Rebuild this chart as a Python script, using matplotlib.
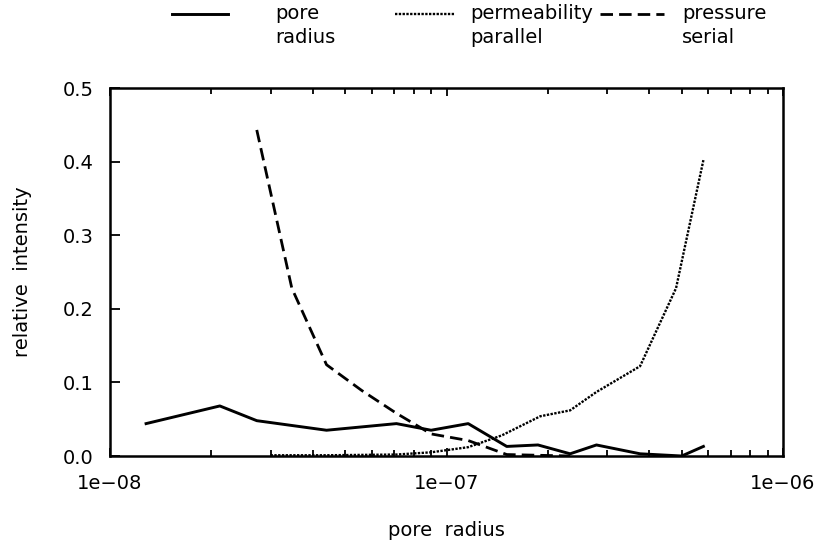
import matplotlib
matplotlib.use("Agg")
import matplotlib.pyplot as plt
from matplotlib.lines import Line2D
from matplotlib.ticker import FixedLocator, FixedFormatter, NullFormatter

# pore radius distribution (solid)
radius_x = [1.28e-8, 2.12e-8, 2.73e-8, 4.4e-8, 7.1e-8, 9.0e-8, 1.16e-7,
            1.51e-7, 1.87e-7, 2.33e-7, 2.79e-7, 3.76e-7, 5.0e-7, 5.8e-7]
radius_y = [0.044, 0.068, 0.048, 0.035, 0.044, 0.035, 0.044,
            0.013, 0.015, 0.003, 0.015, 0.003, 0.0, 0.013]

# permeability, parallel model (dotted)
perm_x = [3.0e-8, 4.4e-8, 7.1e-8, 9.0e-8, 1.16e-7, 1.46e-7, 1.9e-7,
          2.33e-7, 2.79e-7, 3.76e-7, 4.81e-7, 5.8e-7]
perm_y = [0.001, 0.001, 0.002, 0.005, 0.012, 0.028, 0.054,
          0.062, 0.087, 0.122, 0.228, 0.402]

# pressure, serial model (dashed)
press_x = [2.73e-8, 3.47e-8, 4.4e-8, 5.6e-8, 7.1e-8, 9.0e-8, 1.16e-7,
           1.51e-7, 1.87e-7, 2.33e-7]
press_y = [0.443, 0.228, 0.124, 0.089, 0.058, 0.030, 0.021,
           0.002, 0.001, 0.0]

x_ticks = [1e-8, 1e-7, 1e-6]
x_labels = ["1e\u221208", "1e\u221207", "1e\u221206"]
y_ticks = [0.0, 0.1, 0.2, 0.3, 0.4, 0.5]
y_labels = ["0.0", "0.1", "0.2", "0.3", "0.4", "0.5"]

series_labels = ["pore\nradius", "permeability\nparallel", "pressure\nserial"]

plt.rcParams["font.family"] = ["DejaVu Sans"]
FS = 14

fig = plt.figure(figsize=(8.31, 5.47), dpi=100)
ax = fig.add_axes([110 / 831, 1 - 456 / 547, (783 - 110) / 831, (456 - 88) / 547])

styles = ["-", (0, (1, 0.6)), (0, (4.5, 2.2))]
widths = [2.1, 1.7, 2.0]
ax.plot(radius_x, radius_y, color="black", lw=widths[0], ls=styles[0])
ax.plot(perm_x, perm_y, color="black", lw=widths[1], ls=styles[1])
ax.plot(press_x, press_y, color="black", lw=widths[2], ls=styles[2])

ax.set_xscale("log")
ax.set_xlim(1e-8, 1e-6)
ax.set_ylim(0, 0.5)

ax.xaxis.set_major_locator(FixedLocator(x_ticks))
ax.xaxis.set_major_formatter(FixedFormatter(x_labels))
ax.xaxis.set_minor_formatter(NullFormatter())
ax.yaxis.set_major_locator(FixedLocator(y_ticks))
ax.yaxis.set_major_formatter(FixedFormatter(y_labels))

ax.tick_params(axis="x", which="major", direction="in", length=6, width=1.3,
               top=True, bottom=True, labelsize=FS, pad=13)
ax.tick_params(axis="x", which="minor", direction="in", length=4, width=1.3,
               top=True, bottom=True)
ax.tick_params(axis="y", which="major", direction="in", length=7, width=1.3,
               left=True, right=False, labelsize=FS, pad=12)

for s in ax.spines.values():
    s.set_linewidth(1.8)

ax.set_xlabel("pore  radius", fontsize=FS, labelpad=20)
ax.set_ylabel("relative  intensity", fontsize=FS, labelpad=22)

# legend row across the top
leg_line_x = [(172, 228), (395, 455), (600, 664)]
leg_text_x = [275, 470, 682]
for (x0, x1), tx, st, w, lab in zip(leg_line_x, leg_text_x, styles, widths, series_labels):
    fig.add_artist(Line2D([x0 / 831, x1 / 831], [1 - 14 / 547, 1 - 14 / 547],
                          color="black", lw=w, ls=st, transform=fig.transFigure))
    fig.text(tx / 831, 1 - 4 / 547, lab, fontsize=FS, va="top", ha="left",
             linespacing=1.35)

fig.savefig("out.png", dpi=100)
